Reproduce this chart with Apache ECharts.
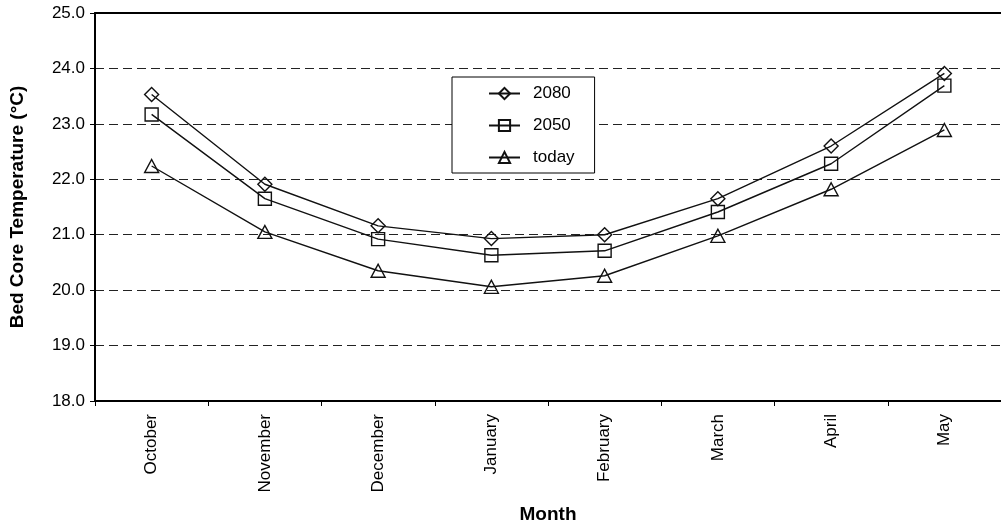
<!DOCTYPE html>
<html>
<head>
<meta charset="utf-8">
<script src="https://cdn.jsdelivr.net/npm/echarts@6/dist/echarts.min.js"></script>
<style>
html,body{margin:0;padding:0;background:#fff;}
#chart{width:1001px;height:529px;}
</style>
</head>
<body>
<div id="chart"></div>
<script>
const months = ['October','November','December','January','February','March','April','May'];
const s2080 = [23.53, 21.91, 21.16, 20.93, 21.00, 21.65, 22.60, 23.91];
const s2050 = [23.17, 21.65, 20.92, 20.63, 20.71, 21.41, 22.28, 23.69];
const sToday = [22.24, 21.05, 20.35, 20.06, 20.26, 20.98, 21.82, 22.89];
const seriesNames = ['2080','2050','today'];
const yTicks = [18,19,20,21,22,23,24,25];

const FONT = 'Liberation Sans, Arial, sans-serif';
const INK = '#111';

function mkSeries(name, data, symbol, size){
  return {
    name: name, type: 'line', data: data,
    symbol: symbol, symbolSize: size,
    showSymbol: true,
    lineStyle: {color: INK, width: 1.4},
    itemStyle: {color: 'rgba(255,255,255,0)', borderColor: INK, borderWidth: 1.4},
    emphasis: {disabled: true},
    animation: false,
    z: 3
  };
}

const chart = echarts.init(document.getElementById('chart'), null, {renderer:'canvas'});
chart.setOption({
  animation: false,
  backgroundColor: '#fff',
  textStyle: {fontFamily: FONT, color: '#000'},
  grid: {left: 90, right: 0, top: 13, bottom: 118, containLabel: false},
  legend: {
    orient: 'vertical',
    left: 452, top: 77,
    data: seriesNames,
    itemWidth: 31, itemHeight: 14, itemGap: 15,
    padding: [8, 20, 7, 36],
    borderColor: '#000', borderWidth: 1,
    backgroundColor: '#fff',
    textStyle: {fontFamily: FONT, fontSize: 17, color: '#000', padding: [0,0,0,8]},
    selectedMode: false
  },
  xAxis: [{
    type: 'category',
    data: months,
    boundaryGap: true,
    axisLine: {show: true, lineStyle: {color: '#000', width: 2}},
    axisTick: {show: true, length: 5, lineStyle: {color: '#000', width: 1}},
    axisLabel: {rotate: 90, fontSize: 17, color: '#000', fontFamily: FONT, margin: 13},
    splitLine: {show: false},
    name: 'Month', nameLocation: 'middle', nameGap: 104,
    nameTextStyle: {fontSize: 19, fontWeight: 'bold', color: '#000', fontFamily: FONT}
  },{
    type: 'category',
    position: 'top',
    data: months,
    axisLine: {show: true, lineStyle: {color: '#000', width: 2}},
    axisTick: {show: false},
    axisLabel: {show: false},
    splitLine: {show: false}
  }],
  yAxis: {
    type: 'value',
    min: yTicks[0], max: yTicks[yTicks.length-1], interval: 1,
    axisLine: {show: true, lineStyle: {color: '#000', width: 2}},
    axisTick: {show: true, length: 5, lineStyle: {color: '#000', width: 1}},
    axisLabel: {fontSize: 17, color: '#000', fontFamily: FONT, margin: 10,
      formatter: v => v.toFixed(1)},
    splitLine: {show: true, lineStyle: {color: '#222', width: 1.2, type: [9, 5]}},
    name: 'Bed Core Temperature (\u00B0C)', nameLocation: 'middle', nameGap: 68,
    nameTextStyle: {fontSize: 19, fontWeight: 'bold', color: '#000', fontFamily: FONT}
  },
  series: [
    mkSeries('2080', s2080, 'diamond', [14, 14]),
    mkSeries('2050', s2050, 'rect', [13, 13]),
    mkSeries('today', sToday, 'triangle', [14, 13])
  ]
});
</script>
</body>
</html>
